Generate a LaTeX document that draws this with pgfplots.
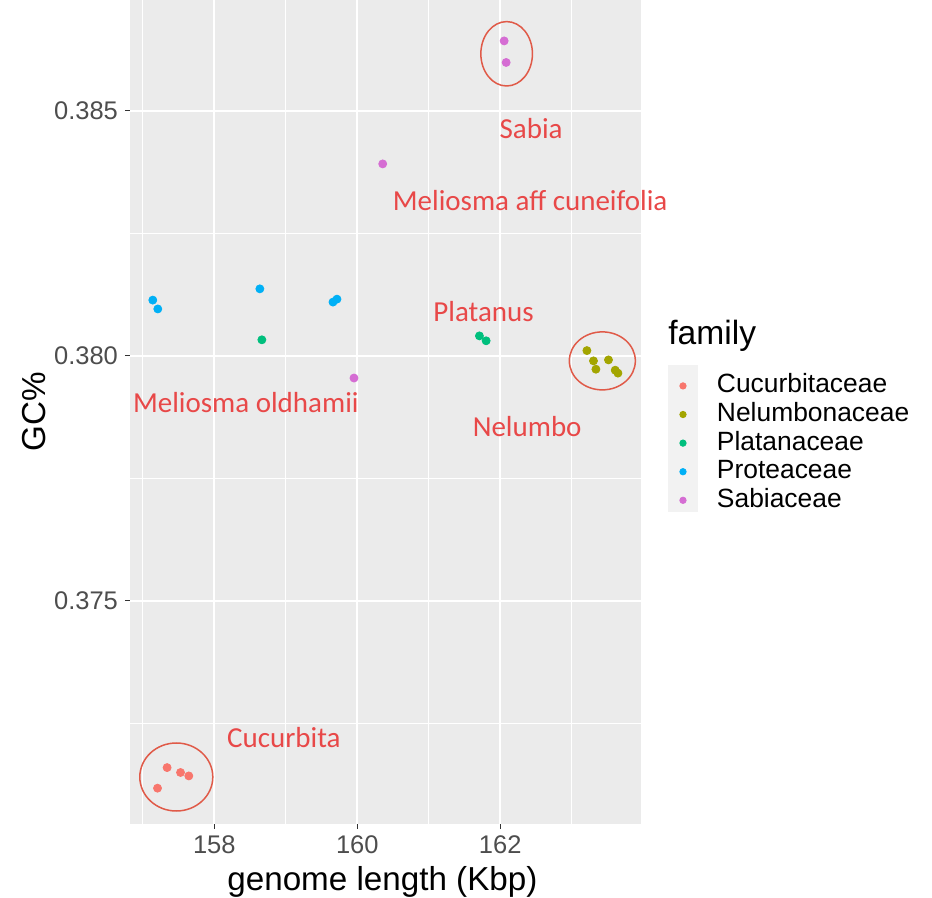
\documentclass[border=0pt]{standalone}
\usepackage{pgfplots}
\pgfplotsset{compat=1.18}
\usepackage{fontspec}
\setmainfont{Liberation Sans}
\newfontfamily\notefont{Carlito}

% ggplot-style palette
\definecolor{cucurb}{HTML}{F8766D}
\definecolor{nelumb}{HTML}{A3A500}
\definecolor{platan}{HTML}{00BF7D}
\definecolor{protea}{HTML}{00B0F6}
\definecolor{sabiac}{HTML}{D56DD3}
\definecolor{panelbg}{HTML}{EBEBEB}
\definecolor{keybg}{HTML}{F2F2F2}
\definecolor{ticklab}{HTML}{4D4D4D}
\definecolor{tickcol}{HTML}{333333}
\definecolor{notered}{HTML}{E84848}
\definecolor{ringred}{HTML}{E05A48}

\begin{document}
\begin{tikzpicture}[x=1pt,y=1pt]
\path[use as bounding box] (-65,-37) rectangle (401,412);
% legend key background
\fill[keybg] (269,156) rectangle (284,229.5);
\begin{axis}[
  at={(0,0)}, anchor=south west,
  scale only axis, width=255.5pt, height=412pt,
  xmin=156.82, xmax=163.97, ymin=0.370449, ymax=0.387265,
  axis background/.style={fill=panelbg},
  axis line style={draw=none},
  scaled ticks=false,
  xtick={158,160,162}, xticklabels={158,160,162},
  ytick={0.375,0.38,0.385}, yticklabels={0.375,0.380,0.385},
  minor xtick={157,159,161,163}, minor ytick={0.3725,0.3775,0.3825},
  grid=both,
  major grid style={white, line width=1pt},
  minor grid style={white, line width=0.5pt},
  tick align=outside, major tick length=2.5pt, minor tick length=0pt,
  xtick pos=bottom, ytick pos=left,
  tick style={color=tickcol, line width=0.5pt},
  tick label style={font=\fontsize{12.75}{14}\selectfont, text=ticklab},
  xlabel={genome length (Kbp)}, ylabel={GC\%},
  label style={font=\fontsize{16.6}{18}\selectfont},
  xlabel style={at={(axis description cs:0.494,0)}, anchor=base, yshift=-33.5pt},
  ylabel style={at={(axis description cs:-0.1663,0.5)}, anchor=base},
  legend cell align=left,
  legend style={draw=none, fill=none, inner sep=0pt, outer sep=0pt,
    at={(axis description cs:1.0528,0.549)}, anchor=north west,
    font=\fontsize{13.2}{14}\selectfont, row sep=0pt, column sep=6pt,
    nodes={inner xsep=3.5pt, inner ysep=1.1pt, text height=9.5pt, text depth=2.6pt}},
  legend image code/.code={%
    \path[draw=none, fill=none] (0pt,-3pt) rectangle (15pt,3pt);
    \draw[#1, mark size=1.6pt] plot coordinates {(7.5pt,0pt)};},
  clip=false,
]
\addplot[only marks, mark=*, mark size=2pt, color=cucurb] coordinates {
  (157.339,0.37160) (157.527,0.37150) (157.643,0.37143) (157.205,0.37118)};
\addlegendentry{Cucurbitaceae}
\addplot[only marks, mark=*, mark size=2pt, color=nelumb] coordinates {
  (163.213,0.38011) (163.305,0.37990) (163.339,0.37973)
  (163.515,0.37992) (163.609,0.37971) (163.647,0.37965)};
\addlegendentry{Nelumbonaceae}
\addplot[only marks, mark=*, mark size=2pt, color=platan] coordinates {
  (158.665,0.38033) (161.709,0.38041) (161.803,0.38031)};
\addlegendentry{Platanaceae}
\addplot[only marks, mark=*, mark size=2pt, color=protea] coordinates {
  (157.139,0.38114) (157.209,0.38096) (158.637,0.38137)
  (159.660,0.38110) (159.716,0.38116)};
\addlegendentry{Proteaceae}
\addplot[only marks, mark=*, mark size=2pt, color=sabiac] coordinates {
  (159.954,0.37955) (160.356,0.38392) (162.055,0.38643) (162.083,0.38599)};
\addlegendentry{Sabiaceae}

% genus notes
\begin{scope}[every node/.style={text=notered, font=\notefont\fontsize{14.5}{16}\selectfont, inner sep=0pt}]
\node at (axis cs:162.433,0.384633) {Sabia};
\node at (axis cs:162.419,0.383163) {Meliosma aff cuneifolia};
\node at (axis cs:161.768,0.380898) {Platanus};
\node at (axis cs:162.377,0.378551) {Nelumbo};
\node at (axis cs:158.441,0.379041) {Meliosma oldhamii};
\node at (axis cs:158.973,0.372204) {Cucurbita};
\end{scope}
\draw[ringred, line width=0.75pt] (axis cs:157.468,0.371408) ellipse [x radius=18.25pt, y radius=17pt];
\draw[ringred, line width=0.75pt] (axis cs:163.429,0.379900) ellipse [x radius=16.5pt, y radius=14.5pt];
\draw[ringred, line width=0.75pt] (axis cs:162.090,0.386167) ellipse [x radius=12.9pt, y radius=16.1pt];
\end{axis}
\node[anchor=base west, inner sep=0pt, font=\fontsize{16.8}{18}\selectfont] at (269,239.5) {family};
\end{tikzpicture}
\end{document}
